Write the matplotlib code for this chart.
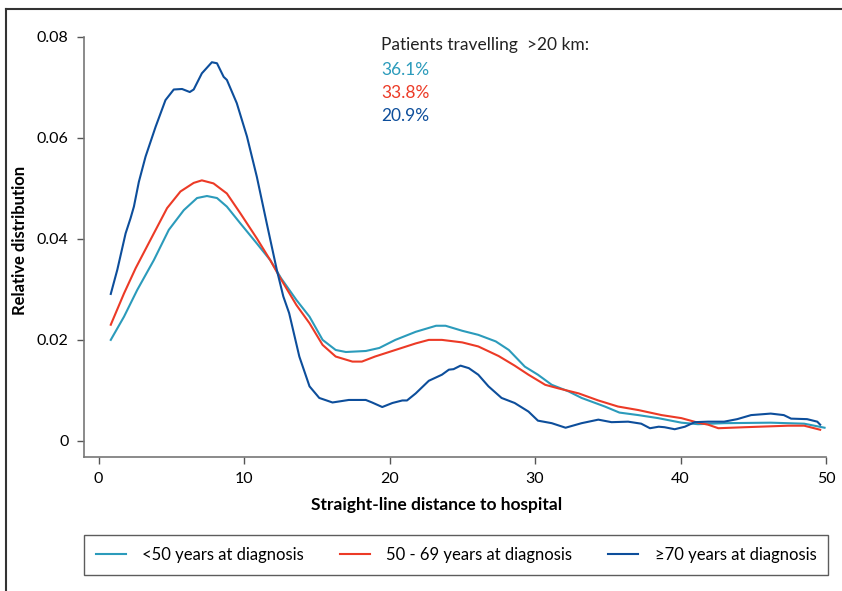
"""Relative distribution of straight-line distance to hospital by age group."""

import matplotlib.pyplot as plt
from matplotlib.lines import Line2D

plt.rcParams["font.family"] = ["Lato", "DejaVu Sans"]

# <50 years at diagnosis
young_x = [0.84, 1.75, 2.66, 3.8, 4.83, 5.86, 6.77, 7.45, 8.14, 8.82, 9.74, 10.88,
           11.8, 12.55, 13.6, 14.5, 15.4, 16.3, 17.0, 18.37, 19.3, 20.4, 21.8, 23.2,
           23.85, 25.0, 26.1, 27.3, 28.2, 29.3, 30.2, 31.15, 32.3, 33.2, 34.8, 35.8,
           37.1, 38.46, 40.06, 41.2, 43.0, 46.2, 48.5, 49.9]
young_y = [0.0200, 0.0246, 0.0299, 0.0358, 0.0418, 0.0457, 0.0481, 0.0485, 0.0481,
           0.0464, 0.0431, 0.0391, 0.0358, 0.0322, 0.0279, 0.0246, 0.0200, 0.0180,
           0.0176, 0.0178, 0.0184, 0.0200, 0.0216, 0.0228, 0.0228, 0.0218, 0.0210,
           0.0197, 0.0180, 0.0147, 0.0131, 0.0111, 0.0098, 0.0085, 0.0068, 0.0056,
           0.0051, 0.0045, 0.0036, 0.0033, 0.0035, 0.0036, 0.0034, 0.0026]

# 50 - 69 years at diagnosis
mid_x = [0.84, 1.75, 2.55, 3.8, 4.71, 5.63, 6.54, 7.1, 7.9, 8.82, 9.74, 10.88, 11.8,
         12.5, 13.6, 14.5, 15.4, 16.3, 17.45, 18.1, 19.0, 20.4, 21.8, 22.7, 23.6,
         25.0, 26.1, 27.5, 28.6, 29.55, 30.7, 31.6, 33.0, 34.35, 35.7, 37.1, 38.7,
         40.06, 41.2, 41.9, 42.6, 44.4, 47.4, 48.5, 49.6]
mid_y = [0.0230, 0.0292, 0.0342, 0.0411, 0.0461, 0.0494, 0.0511, 0.0516, 0.0510,
         0.0490, 0.0451, 0.0401, 0.0358, 0.0322, 0.0269, 0.0233, 0.0190, 0.0167,
         0.0157, 0.0157, 0.0167, 0.0180, 0.0193, 0.0200, 0.0200, 0.0195, 0.0187,
         0.0168, 0.0149, 0.0131, 0.0111, 0.0104, 0.0094, 0.0080, 0.0068, 0.0061,
         0.0051, 0.0045, 0.0036, 0.0032, 0.0025, 0.0027, 0.0030, 0.0030, 0.0022]

# >=70 years at diagnosis
old_x = [0.84, 1.29, 1.86, 2.2, 2.43, 2.77, 3.23, 3.92, 4.6, 5.17, 5.74, 6.27, 6.54,
         7.1, 7.79, 8.14, 8.6, 8.82, 9.5, 10.2, 10.88, 11.56, 12.25, 12.7, 13.1,
         13.8, 14.5, 15.17, 16.08, 17.2, 18.37, 18.8, 19.5, 20.2, 20.88, 21.2, 21.8,
         22.7, 23.6, 24.08, 24.4, 24.88, 25.45, 26.1, 26.8, 27.7, 28.6, 29.55, 30.2,
         31.15, 32.1, 33.2, 34.35, 35.26, 36.4, 37.3, 37.9, 38.5, 38.9, 39.6, 40.3,
         40.97, 41.9, 43.0, 43.9, 44.85, 46.2, 47.1, 47.6, 48.7, 49.4, 49.6]
old_y = [0.0291, 0.0339, 0.0411, 0.0441, 0.0464, 0.0513, 0.0563, 0.0622, 0.0675,
         0.0696, 0.0697, 0.0691, 0.0696, 0.0728, 0.0750, 0.0748, 0.0721, 0.0715,
         0.0669, 0.0603, 0.0523, 0.0431, 0.0339, 0.0286, 0.0253, 0.0167, 0.0108,
         0.0085, 0.0076, 0.0081, 0.0081, 0.0076, 0.0067, 0.0075, 0.0080, 0.0080,
         0.0094, 0.0119, 0.0131, 0.0141, 0.0142, 0.0149, 0.0144, 0.0131, 0.0108,
         0.0085, 0.0075, 0.0058, 0.0040, 0.0035, 0.0026, 0.0035, 0.0042, 0.0037,
         0.0038, 0.0034, 0.0025, 0.0028, 0.0027, 0.0023, 0.0028, 0.0037, 0.0038,
         0.0038, 0.0043, 0.0051, 0.0054, 0.0051, 0.0044, 0.0043, 0.0038, 0.0032]

labels = ["<50 years at diagnosis", "50 - 69 years at diagnosis", "≥70 years at diagnosis"]
shares = ["36.1%", "33.8%", "20.9%"]
colors = ["#2b9bbb", "#ec3a26", "#0d4e9b"]

fig = plt.figure(figsize=(8.42, 5.91), dpi=100)
ax = fig.add_axes([84 / 842, 1 - 457 / 591, 742 / 842, 420 / 591])

series = [(young_x, young_y), (mid_x, mid_y), (old_x, old_y)]
for (xs, ys), label, color in zip(series, labels, colors):
    ax.plot(xs, ys, color=color, lw=1.5, label=label, solid_joinstyle="round")

ax.set_xlim(-1, 50)
ax.set_ylim(-0.0032, 0.08)
ax.set_xticks([0, 10, 20, 30, 40, 50])
ax.set_yticks([0, 0.02, 0.04, 0.06, 0.08])
ax.set_yticklabels(["0", "0.02", "0.04", "0.06", "0.08"])
ax.tick_params(labelsize=11.5, length=5, width=1, color="#555555", pad=6)
for side in ["top", "right"]:
    ax.spines[side].set_visible(False)
for side in ["left", "bottom"]:
    ax.spines[side].set_color("#777777")
    ax.spines[side].set_linewidth(1.2)

fig.text(20 / 842, 1 - 240 / 591, "Relative distribution", rotation=90,
         ha="center", va="center", fontsize=12, fontweight="bold")
fig.text(437 / 842, 1 - 505 / 591, "Straight-line distance to hospital",
         ha="center", va="center", fontsize=12.5, fontweight="bold")

fig.text(381 / 842, 1 - 45 / 591, "Patients travelling  >20 km:",
         ha="left", va="center", fontsize=12.5, color="#222222")
for i, (share, color) in enumerate(zip(shares, colors)):
    fig.text(381 / 842, 1 - (70 + 23 * i) / 591, share,
             ha="left", va="center", fontsize=12.5, color=color)

leg = fig.legend(loc="center", bbox_to_anchor=(84 / 842, 1 - 576 / 591, 744 / 842, 42 / 591),
                 mode="expand", ncol=3, fontsize=12, frameon=True, fancybox=False,
                 handlelength=1.8, borderpad=0.7, handletextpad=1.0, borderaxespad=0)
leg.get_frame().set_edgecolor("#333333")
leg.get_frame().set_linewidth(1.0)

# outer frame, open on the right and bottom
fig.add_artist(Line2D([6 / 842, 1], [1 - 9 / 591, 1 - 9 / 591], color="#333333", lw=1.5))
fig.add_artist(Line2D([6 / 842, 6 / 842], [0, 1 - 9 / 591], color="#333333", lw=1.5))

fig.savefig("out.png", dpi=100)
